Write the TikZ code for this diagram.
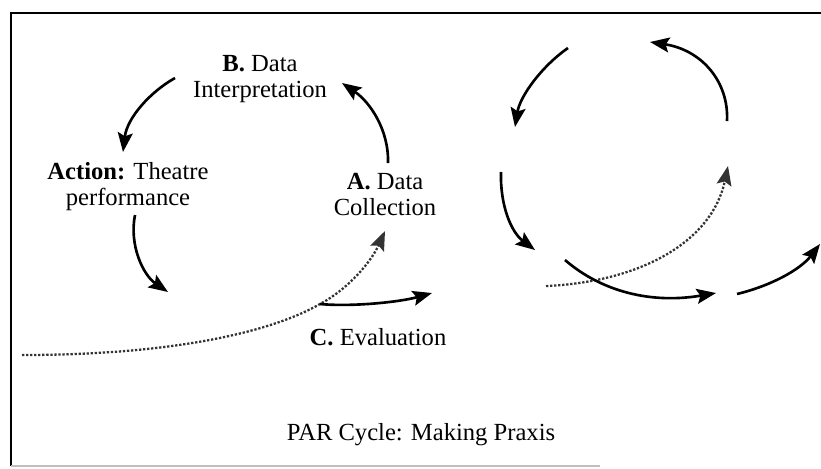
\documentclass[tikz,border=0pt]{standalone}
\usepackage{fontspec}
\setmainfont{Liberation Serif}
\usetikzlibrary{arrows.meta}

\begin{document}
\begin{tikzpicture}[x=0.02cm,y=-0.02cm,>={Stealth[length=11pt,width=8.5pt,inset=2pt]},
        flow/.style={->,line width=1.5pt},
        trail/.style={->,densely dotted,line width=1.3pt,black!80},
        every node/.style={align=center,inner sep=0pt,font=\fontsize{14}{14.6}\selectfont}]
        \useasboundingbox (0,0) rectangle (821,468);
        % frame
        \draw [line width=1.2pt] (11,466) -- (11,13) -- (821,13);
        \draw [black!25,line width=0.8pt] (11,466) -- (600,466);
        % left cycle
        \node [anchor=base] (b) at (260,97) {\textbf{B.} Data\\Interpretation};
        \node [anchor=base] (act) at (128,205) {\textbf{Action:} Theatre\\performance};
        \node [anchor=base] (a) at (385,215) {\textbf{A.} Data\\Collection};
        \node [anchor=base] (c) at (378,345) {\textbf{C.} Evaluation};
        \node [anchor=base] (title) at (421,440) {PAR Cycle: Making Praxis};
        \coordinate (b1) at (175,78);
        \coordinate (b2) at (123,152);
        \coordinate (p1) at (135,215);
        \coordinate (p2) at (168,292);
        \coordinate (a1) at (388,163);
        \coordinate (a2) at (342,83);
        \coordinate (s1) at (22,355);
        \coordinate (s2) at (320,304);
        \coordinate (s3) at (385,231);
        \coordinate (c2) at (432,293);
        \draw [flow] (b1) .. controls (150,92) and (127,118) .. (b2);
        \draw [flow] (p1) .. controls (129,245) and (143,275) .. (p2);
        \draw [flow] (a1) .. controls (389,130) and (370,102) .. (a2);
        \draw [trail] (s1) .. controls (180,355) and (275,330) .. (s2)
                .. controls (350,288) and (372,260) .. (s3);
        \draw [flow] (s2) .. controls (352,307) and (400,302) .. (c2);
        % right cycle
        \coordinate (r1) at (568,48);
        \coordinate (r2) at (515,127);
        \coordinate (r3) at (727,121);
        \coordinate (r4) at (650,42);
        \coordinate (r5) at (501,172);
        \coordinate (r6) at (535,250);
        \coordinate (r7) at (546,286);
        \coordinate (r8) at (728,166);
        \coordinate (r9) at (565,260);
        \coordinate (r10) at (716,293);
        \coordinate (r11) at (737,294);
        \coordinate (r12) at (820,244);
        \draw [flow] (r1) .. controls (542,66) and (520,96) .. (r2);
        \draw [flow] (r3) .. controls (729,82) and (702,50) .. (r4);
        \draw [flow] (r5) .. controls (500,205) and (511,232) .. (r6);
        \draw [trail] (r7) .. controls (640,282) and (712,242) .. (r8);
        \draw [flow] (r9) .. controls (602,292) and (652,304) .. (r10);
        \draw [flow] (r11) .. controls (770,286) and (800,270) .. (r12);
\end{tikzpicture}
\end{document}
